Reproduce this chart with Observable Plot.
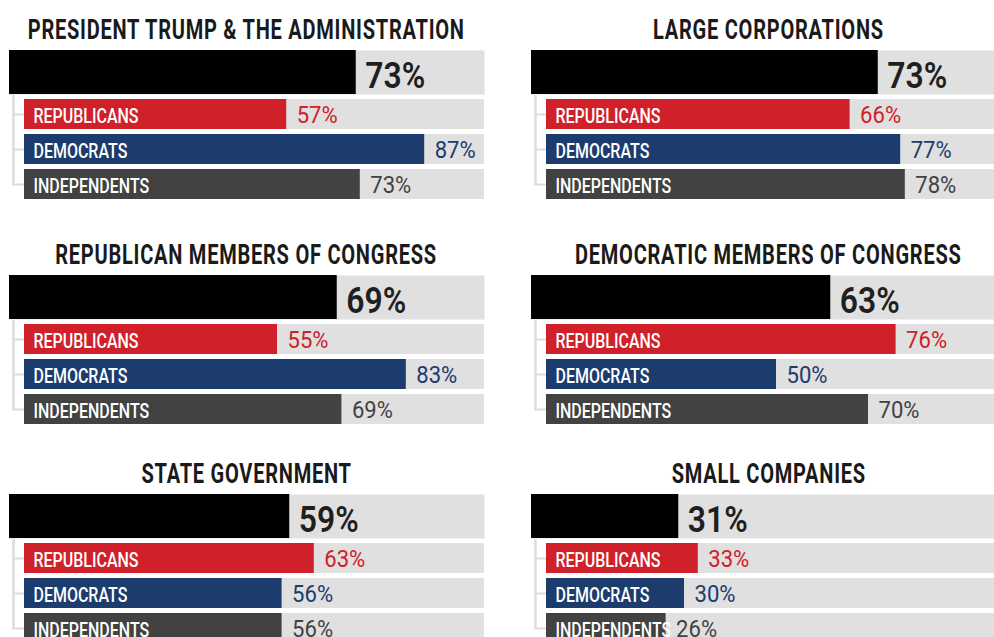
<!DOCTYPE html>
<html>
<head>
<meta charset="utf-8">
<script src="https://cdn.jsdelivr.net/npm/d3@7"></script>
<script src="https://cdn.jsdelivr.net/npm/@observablehq/plot@0.6"></script>
<style>
  html, body { margin: 0; padding: 0; background: #fff; }
  #chart { position: relative; width: 994px; height: 637px; overflow: hidden; background: #fff; font-family: Roboto, "Noto Sans", sans-serif; }
  .panel { position: absolute; width: 475px; height: 200px; }
  .title { position: absolute; left: 0; top: 16.5px; width: 475px; height: 30px; font-size: 27px; line-height: 27px;
    font-weight: bold; color: #1a1a1a; white-space: nowrap; }
  .title span { position: absolute; top: 0; left: 0; letter-spacing: 1px; transform-origin: 50% 50%; }
  .main { position: absolute; left: 0; top: 50px; }
  .sub { position: absolute; left: 0; top: 94px; }
  svg { font-family: Roboto, "Noto Sans", sans-serif; overflow: visible; }
</style>
</head>
<body>
<div id="chart"></div>
<script>
// ---- data ----
const categories = [
  "PRESIDENT TRUMP & THE ADMINISTRATION",
  "LARGE CORPORATIONS",
  "REPUBLICAN MEMBERS OF CONGRESS",
  "DEMOCRATIC MEMBERS OF CONGRESS",
  "STATE GOVERNMENT",
  "SMALL COMPANIES"
];
const totals = [73, 73, 69, 63, 59, 31];
const groups = ["REPUBLICANS", "DEMOCRATS", "INDEPENDENTS"];
const republicans = [57, 66, 55, 76, 63, 33];
const democrats = [87, 77, 83, 50, 56, 30];
const independents = [73, 78, 69, 70, 56, 26];

// ---- styles / layout ----
const groupColors = ["#d0202a", "#1d3c6e", "#424242"];
const trackColor = "#e0e0e0";
const bracketColor = "#dcdcdc";
const FULL = 100;
const panelLeft = [9, 531];
const panelTop = [0, 225, 444];
const panelWidth = 475;
const subIndent = 15;

const chart = document.getElementById("chart");
const titleSpans = [];

categories.forEach((cat, i) => {
  const col = i % 2, row = Math.floor(i / 2);
  const panel = document.createElement("div");
  panel.className = "panel";
  panel.style.left = panelLeft[col] + "px";
  panel.style.top = panelTop[row] + "px";
  chart.appendChild(panel);

  const title = document.createElement("div");
  title.className = "title";
  const span = document.createElement("span");
  span.textContent = cat;
  title.appendChild(span);
  titleSpans.push(span);
  panel.appendChild(title);

  // main (total) bar
  const total = totals[i];
  const main = Plot.plot({
    width: panelWidth, height: 44,
    marginTop: 0, marginBottom: 0, marginLeft: 0, marginRight: 0,
    x: {domain: [0, FULL], axis: null},
    marks: [
      Plot.frame({fill: trackColor, stroke: null}),
      Plot.barX([total], {x: d => d, fill: "#000"}),
      Plot.text([total], {x: d => d, text: d => d + "%", textAnchor: "start", dx: 9, dy: 3.5,
        frameAnchor: "middle", fontSize: 36, fontWeight: 600, fill: "#1f1f1f"})
    ]
  });
  main.classList.add("main");
  panel.appendChild(main);

  // sub bars
  const vals = [republicans[i], democrats[i], independents[i]];
  const subData = groups.map((g, k) => ({group: g, value: vals[k], color: groupColors[k]}));
  const sub = Plot.plot({
    width: panelWidth, height: 105,
    marginTop: 5, marginBottom: 0, marginLeft: subIndent, marginRight: 0,
    x: {domain: [0, FULL], axis: null},
    y: {domain: groups, axis: null, paddingInner: 5 / 35, paddingOuter: 0},
    marks: [
      Plot.ruleX([0], {dx: -11, insetTop: -4, insetBottom: 15, stroke: bracketColor, strokeWidth: 2.5}),
      Plot.ruleY(subData, {y: "group", insetLeft: -12, insetRight: panelWidth - subIndent - 10,
        stroke: bracketColor, strokeWidth: 2}),
      Plot.barX(subData, {y: "group", x1: 0, x2: FULL, fill: trackColor}),
      Plot.barX(subData, {y: "group", x: "value", fill: "color"}),
      Plot.text(subData, {y: "group", frameAnchor: "left", text: "group", textAnchor: "start", dx: 9, dy: 2,
        fill: "#fff", fontSize: 19.7, fontWeight: 500}),
      Plot.text(subData, {y: "group", x: "value", text: d => d.value + "%", textAnchor: "start", dx: 10, dy: 1,
        fill: "color", fontSize: 23.5})
    ]
  });
  sub.classList.add("sub");
  panel.appendChild(sub);
});

// condense the text horizontally to mimic the narrow typeface of the original
function condense(els, refText, target) {
  const ref = els.find(e => e.textContent === refText);
  if (!ref) return;
  const s = target / ref.getComputedTextLength();
  const lens = els.map(e => e.getComputedTextLength());
  els.forEach((e, k) => {
    e.setAttribute("textLength", lens[k] * s);
    e.setAttribute("lengthAdjust", "spacingAndGlyphs");
  });
}
const mainTexts = Array.from(chart.querySelectorAll("svg.main text"));
const subTexts = Array.from(chart.querySelectorAll("svg.sub text"));
condense(subTexts.filter(e => groups.includes(e.textContent)), "REPUBLICANS", 105);
condense(subTexts.filter(e => e.textContent.endsWith("%")), "57%", 41);
condense(mainTexts, "73%", 60);

const tScale = 437 / titleSpans[0].getBoundingClientRect().width;
titleSpans.forEach(s => {
  const w = s.getBoundingClientRect().width;
  s.style.left = ((panelWidth - w) / 2) + "px";
  s.style.transform = `scaleX(${tScale})`;
});
</script>
</body>
</html>
